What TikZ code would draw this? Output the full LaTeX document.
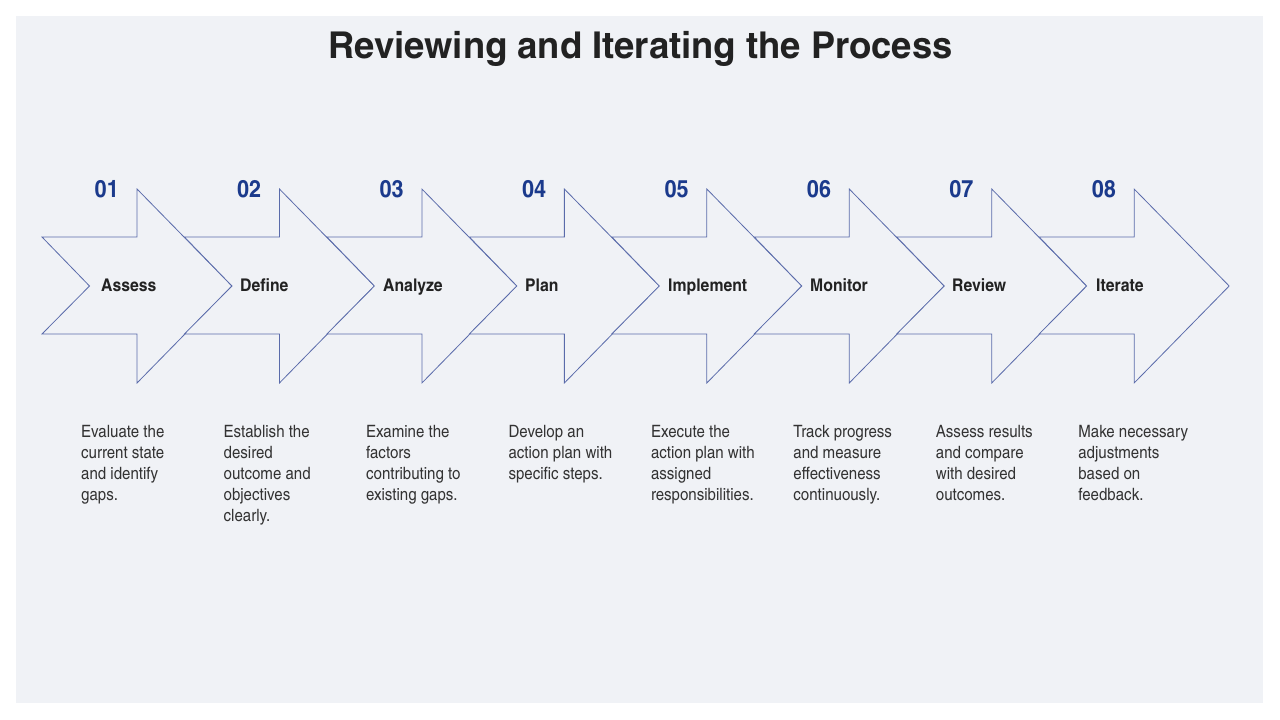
\documentclass[tikz,border=0pt]{standalone}
\usepackage{fontspec}
\setmainfont{texgyreheroscn}[Extension=.otf,UprightFont=*-regular,BoldFont=*-bold,ItalicFont=*-italic,BoldItalicFont=*-bolditalic]
\newfontfamily\descfont{texgyreheroscn}[Extension=.otf,UprightFont=*-regular,BoldFont=*-bold,FakeStretch=1.08]
\newfontfamily\labfont{texgyreheroscn}[Extension=.otf,UprightFont=*-regular,BoldFont=*-bold,FakeStretch=1.1]
\newfontfamily\titlefont{texgyreheroscn}[Extension=.otf,UprightFont=*-regular,BoldFont=*-bold,FakeStretch=1.2]
\definecolor{bgc}{HTML}{F0F2F6}
\definecolor{strokec}{HTML}{5A6BAA}
\definecolor{numc}{HTML}{1B3A8C}
\definecolor{labc}{HTML}{222222}
\definecolor{descc}{HTML}{333333}
\tikzset{
  chev/.style={draw=strokec, line width=0.8pt, fill=bgc, line join=miter},
  numtext/.style={anchor=base east, inner sep=0pt, text=numc, font=\labfont\fontsize{24}{28}\selectfont\bfseries},
  labtext/.style={anchor=base west, inner sep=0pt, text=labc, font=\labfont\fontsize{17.5}{21}\selectfont\bfseries},
  desctext/.style={anchor=north west, inner sep=0pt, text=descc, align=left, font=\descfont\fontsize{17}{21}\selectfont},
  titletext/.style={anchor=base, inner sep=0pt, text=labc, font=\titlefont\fontsize{37}{44}\selectfont\bfseries}
}
\begin{document}
\begin{tikzpicture}[x=1pt,y=-1pt]
\useasboundingbox (0,0) rectangle (1280,720);
\fill[bgc] (16,16) rectangle (1263,703);
\node[titletext] (title) at (640.5,58) {Reviewing and Iterating the Process};
\foreach \i/\lx/\num/\lab/\desc in {
  0/101/01/Assess/{Evaluate the\\current state\\and identify\\gaps.},
  1/240/02/Define/{Establish the\\desired\\outcome and\\objectives\\clearly.},
  2/383/03/Analyze/{Examine the\\factors\\contributing to\\existing gaps.},
  3/525/04/Plan/{Develop an\\action plan with\\specific steps.},
  4/668/05/Implement/{Execute the\\action plan with\\assigned\\responsibilities.},
  5/810/06/Monitor/{Track progress\\and measure\\effectiveness\\continuously.},
  6/952/07/Review/{Assess results\\and compare\\with desired\\outcomes.},
  7/1096/08/Iterate/{Make necessary\\adjustments\\based on\\feedback.}}{
  \pgfmathsetmacro{\xo}{42+142.45*\i}
  \draw[chev] (\xo,237) -- (\xo+95,237) -- (\xo+95,189) -- (\xo+190,286)
     -- (\xo+95,383) -- (\xo+95,334) -- (\xo,334) -- (\xo+47.5,286) -- cycle;
  \node[numtext] (num\i) at (\xo+77,197) {\num};
  \node[labtext] (lab\i) at (\lx,291.5) {\lab};
  \node[desctext] (desc\i) at (\xo+39,425) {\desc};
}
\end{tikzpicture}
\end{document}
